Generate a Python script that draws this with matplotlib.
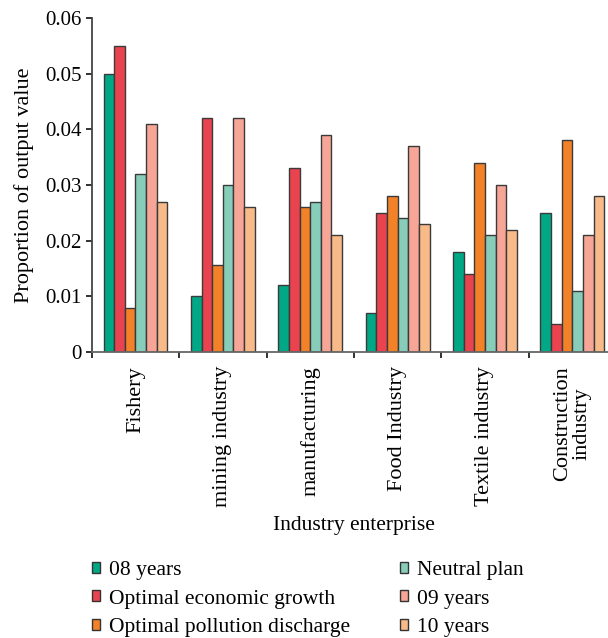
import numpy as np
import matplotlib
matplotlib.use("Agg")
import matplotlib.pyplot as plt
from matplotlib.patches import Patch

plt.rcParams['font.family'] = ['Liberation Serif', 'DejaVu Serif']

industries = ["Fishery", "mining industry", "manufacturing", "Food Industry",
              "Textile industry", "Construction\nindustry"]
series_names = ["08 years", "Optimal economic growth", "Optimal pollution discharge",
                "Neutral plan", "09 years", "10 years"]
colors = ["#00A886", "#EA4350", "#F28128", "#88CDB9", "#F6A596", "#F9BA8A"]

y08 = [0.050, 0.010, 0.012, 0.007, 0.018, 0.025]
econ = [0.055, 0.042, 0.033, 0.025, 0.014, 0.005]
pollution = [0.008, 0.0156, 0.026, 0.028, 0.034, 0.038]
neutral = [0.032, 0.030, 0.027, 0.024, 0.021, 0.011]
y09 = [0.041, 0.042, 0.039, 0.037, 0.030, 0.021]
y10 = [0.027, 0.026, 0.021, 0.023, 0.022, 0.028]
series = [y08, econ, pollution, neutral, y09, y10]

fig = plt.figure(figsize=(6.08, 6.38), dpi=100)
ax = fig.add_axes([0.151, 0.448, 0.862, 0.524])

x = np.arange(len(industries))
w = 0.122
for i, vals in enumerate(series):
    ax.bar(x + (i - 2.5) * w, vals, width=w, color=colors[i],
           edgecolor="#3a3a3a", linewidth=1.0, zorder=2)

ax.set_xlim(-0.5, len(industries) - 0.5)
ax.set_ylim(0, 0.06)
ax.set_yticks([0, 0.01, 0.02, 0.03, 0.04, 0.05, 0.06])
ax.set_yticklabels(["0", "0.01", "0.02", "0.03", "0.04", "0.05", "0.06"])
# boundaries get the tick marks, centres get the names
ax.set_xticks(np.arange(len(industries) + 1) - 0.5)
ax.set_xticklabels([])
ax.set_xticks(x, minor=True)
ax.set_xticklabels(industries, minor=True, rotation=90, fontsize=16,
                   va="top", ha="center", linespacing=1.0)
ax.tick_params(axis="x", which="minor", length=0, pad=10)
ax.tick_params(axis="x", which="major", length=4, width=1.3, direction="out", color="#222222")
ax.tick_params(axis="y", length=4, width=1.3, direction="out", labelsize=15, color="#222222")

for s in ["top", "right"]:
    ax.spines[s].set_visible(False)
ax.spines["left"].set_color("#444444")
ax.spines["bottom"].set_color("#666666")
ax.spines["left"].set_linewidth(1.3)
ax.spines["bottom"].set_linewidth(1.3)

ax.set_ylabel("Proportion of output value", fontsize=16, labelpad=8)
ax.set_xlabel("Industry enterprise", fontsize=15.5, labelpad=6)

handles = [Patch(facecolor=c, edgecolor="#333333", linewidth=1.0) for c in colors]
fig.legend(handles, series_names, loc="upper left", bbox_to_anchor=(0.119, 0.151),
           ncol=2, frameon=False, fontsize=15.5, handlelength=0.4, handleheight=0.4,
           handletextpad=0.4, columnspacing=2.3, labelspacing=0.44)

fig.savefig("out.png", dpi=100)
